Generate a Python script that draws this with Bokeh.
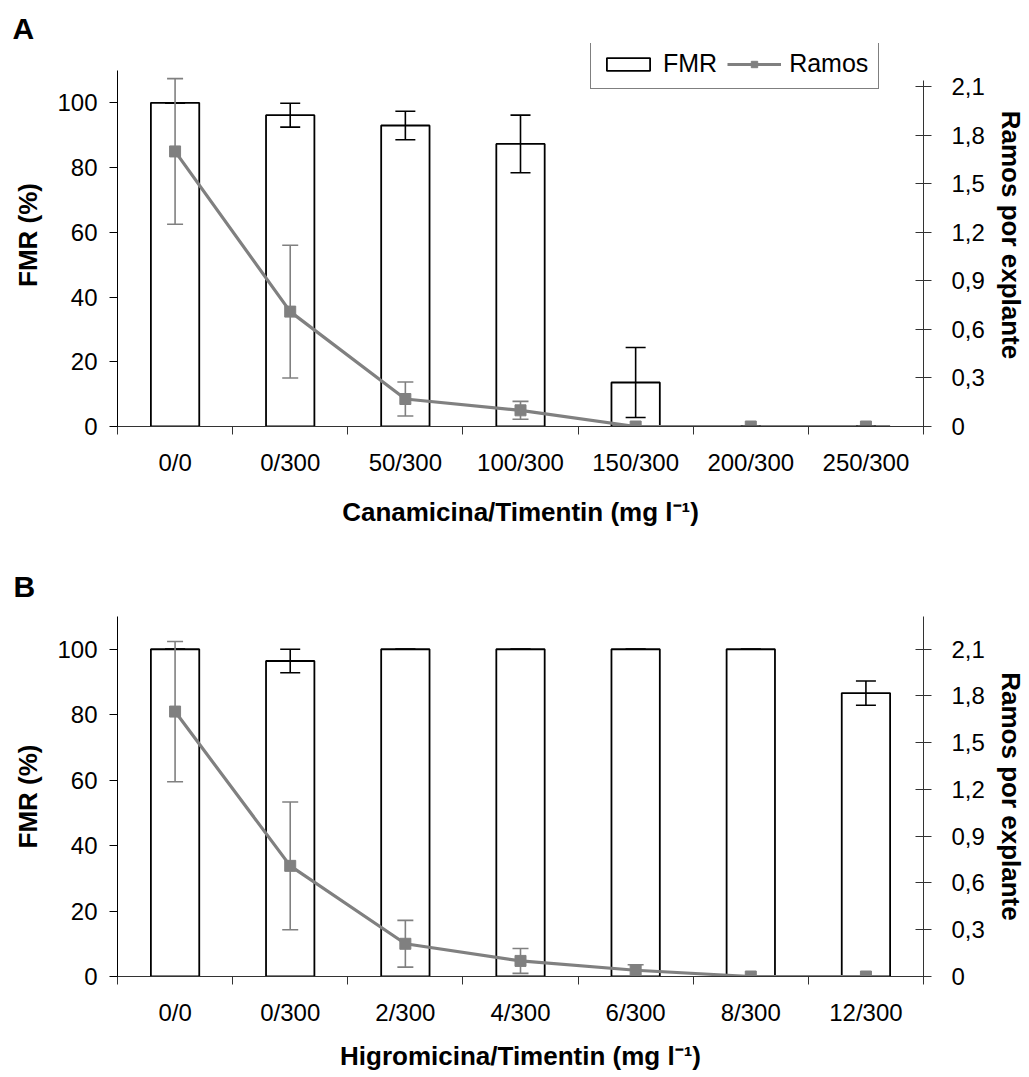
from bokeh.plotting import figure
from bokeh.models import (Range1d, LinearAxis, FixedTicker, CustomJSTickFormatter, Whisker,
                          TeeHead, ColumnDataSource, Legend, LegendItem, Title)
from bokeh.layouts import column
from bokeh.embed import file_html
from bokeh.resources import INLINE

# ---------------- data ----------------
cats_a = ["0/0", "0/300", "50/300", "100/300", "150/300", "200/300", "250/300"]
fmr_a = [100, 96.2, 93.0, 87.3, 13.6, 0, 0]
fmr_err_a = [0, 3.7, 4.4, 8.9, 10.8, 0, 0]
ramos_a = [1.70, 0.71, 0.17, 0.10, 0, 0, 0]
ramos_err_a = [0.45, 0.41, 0.105, 0.055, 0, 0, 0]

cats_b = ["0/0", "0/300", "2/300", "4/300", "6/300", "8/300", "12/300"]
fmr_b = [100, 96.4, 100, 100, 100, 100, 86.6]
fmr_err_b = [0, 3.6, 0, 0, 0, 0, 3.7]
ramos_b = [1.70, 0.71, 0.21, 0.10, 0.04, 0, 0]
ramos_err_b = [0.45, 0.41, 0.15, 0.08, 0.035, 0, 0]

left_ticks = [0, 20, 40, 60, 80, 100]
right_ticks = [0, 0.3, 0.6, 0.9, 1.2, 1.5, 1.8, 2.1]

FONT = "Liberation Sans"
GREY = "#808080"


def build(cats, fmr, fmr_err, ramos, ramos_err, y_end, r_end, r_bound, xlabel, letter,
          height, mb_top, mb_bottom, mb_left, mb_right, title_standoff, letter_standoff,
          with_legend):
    n = len(cats)
    xs = [i + 0.5 for i in range(n)]
    p = figure(width=1029, height=height, output_backend="svg", toolbar_location=None,
               x_range=Range1d(0, n), y_range=Range1d(0, y_end),
               min_border_top=mb_top, min_border_bottom=mb_bottom,
               min_border_left=mb_left, min_border_right=mb_right,
               x_axis_type=None, y_axis_type=None)
    p.outline_line_color = None
    p.xgrid.visible = False
    p.ygrid.visible = False
    p.extra_y_ranges = {"r": Range1d(0, r_end)}

    # left axis
    ly = LinearAxis(ticker=FixedTicker(ticks=left_ticks), bounds=(0, 110))
    ly.axis_label = "FMR (%)"
    ly.major_tick_out = 8
    ly.major_tick_in = 0
    ly.minor_tick_out = 0
    ly.minor_tick_in = 0
    ly.axis_line_color = "black"
    ly.major_tick_line_color = "black"
    ly.major_label_standoff = 12
    ly.axis_label_standoff = 11
    p.add_layout(ly, "left")

    # right axis
    ry = LinearAxis(y_range_name="r", ticker=FixedTicker(ticks=right_ticks),
                    formatter=CustomJSTickFormatter(
                        code="return tick == 0 ? '0' : tick.toFixed(1).replace('.', ',');"))
    ry.axis_label = "Ramos por explante"
    ry.major_tick_out = 8
    ry.major_tick_in = 8
    ry.minor_tick_out = 0
    ry.minor_tick_in = 0
    ry.axis_line_color = "#333333"
    ry.major_tick_line_color = "#333333"
    ry.major_label_standoff = 20
    ry.axis_label_standoff = 8
    ry.bounds = (0, r_bound)
    p.add_layout(ry, "right")

    # bottom axis: labels at centers, ticks at boundaries
    bx = LinearAxis(ticker=FixedTicker(ticks=xs, minor_ticks=list(range(n + 1))))
    bx.major_label_overrides = {x: c for x, c in zip(xs, cats)}
    bx.axis_label = xlabel
    bx.major_tick_out = 0
    bx.major_tick_in = 0
    bx.minor_tick_out = 8
    bx.minor_tick_in = 0
    bx.axis_line_color = "#333333"
    bx.minor_tick_line_color = "#333333"
    bx.major_label_standoff = 14
    bx.axis_label_standoff = title_standoff
    p.add_layout(bx, "below")

    for ax in (ly, ry, bx):
        ax.major_label_text_font = FONT
        ax.major_label_text_font_size = "24px"
        ax.major_label_text_color = "black"
        ax.axis_label_text_font = FONT
        ax.axis_label_text_font_size = "26px"
        ax.axis_label_text_font_style = "bold"
        ax.axis_label_text_color = "black"

    src = ColumnDataSource(dict(
        x=xs, fmr=fmr,
        fu=[v + e for v, e in zip(fmr, fmr_err)],
        fl=[v - e for v, e in zip(fmr, fmr_err)],
        ramos=ramos,
        ru=[v + e for v, e in zip(ramos, ramos_err)],
        rl=[v - e for v, e in zip(ramos, ramos_err)],
    ))

    bars = p.vbar(x="x", top="fmr", width=0.42, bottom=0, source=src,
                  fill_color="white", line_color="black", line_width=1.8)

    bw = Whisker(source=src, base="x", upper="fu", lower="fl",
                 line_color="black", line_width=1.6, level="glyph",
                 upper_head=TeeHead(size=20, line_color="black", line_width=1.6),
                 lower_head=TeeHead(size=20, line_color="black", line_width=1.6))
    p.add_layout(bw)

    line = p.line(x="x", y="ramos", source=src, y_range_name="r",
                  line_color=GREY, line_width=3.2)

    gw = Whisker(source=src, base="x", upper="ru", lower="rl", y_range_name="r",
                 line_color=GREY, line_width=1.6, level="glyph",
                 upper_head=TeeHead(size=16, line_color=GREY, line_width=1.6),
                 lower_head=TeeHead(size=16, line_color=GREY, line_width=1.6))
    p.add_layout(gw)

    marks = p.scatter(x="x", y="ramos", source=src, y_range_name="r", marker="square",
                      size=11, fill_color=GREY, line_color=GREY)

    frame_h = height - mb_top - mb_bottom
    if with_legend:
        leg = Legend(items=[LegendItem(label="FMR", renderers=[bars]),
                            LegendItem(label="Ramos", renderers=[line, marks])],
                     orientation="horizontal", location=(473, frame_h - 46),
                     glyph_width=54, glyph_height=16, label_standoff=8, spacing=10,
                     padding=10, margin=0, border_line_color="black", border_line_width=1,
                     background_fill_color="white", background_fill_alpha=1,
                     label_text_font=FONT, label_text_font_size="25px",
                     label_text_color="black")
        p.add_layout(leg, "center")

    t = Title(text=letter, align="left", offset=-(mb_left - 12), standoff=letter_standoff,
              text_font=FONT, text_font_size="30px", text_font_style="bold",
              text_color="black")
    p.add_layout(t, "above")
    return p


# panel A: frame extends above the 110 level so the legend (which sits above the axes) fits
pA = build(cats_a, fmr_a, fmr_err_a, ramos_a, ramos_err_a, 118.34, 2.367, 2.14,
           "Canamicina/Timentin (mg l\u207b\u00b9)", "A",
           548, 43, 122, 117, 106, 18, -2, True)
pB = build(cats_b, fmr_b, fmr_err_b, ramos_b, ramos_err_b, 110, 2.31, 2.31,
           "Higromicina/Timentin (mg l\u207b\u00b9)", "B",
           529, 68, 101, 116, 102, 12, 28, False)

layout = column(pA, pB, spacing=0)
open("out.html", "w").write(file_html(layout, INLINE))
